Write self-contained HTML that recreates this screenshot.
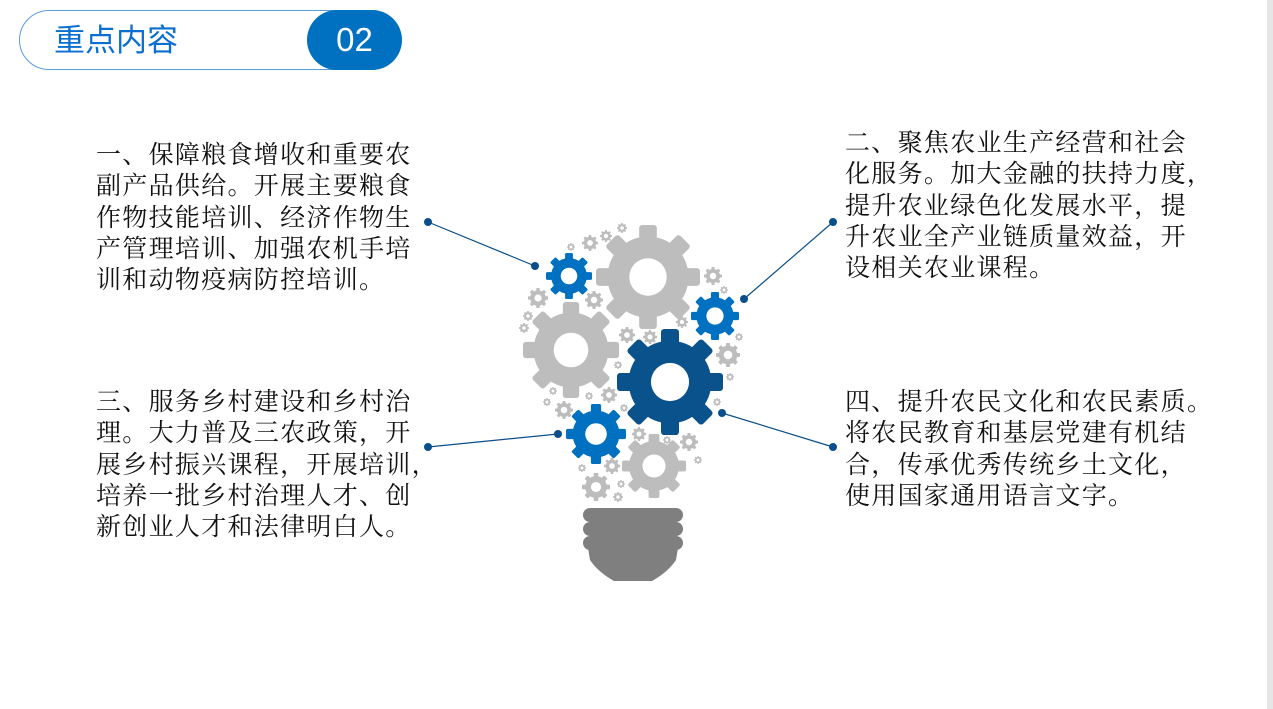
<!DOCTYPE html>
<html><head><meta charset="utf-8"><style>
body{margin:0;width:1273px;height:709px;background:#fff;position:relative;overflow:hidden;font-family:"Liberation Serif","Noto Serif CJK SC","Noto Sans CJK SC",serif;}
.t{position:absolute;font-size:25px;line-height:31.3px;color:#111;letter-spacing:1.3px;white-space:nowrap;}
</style></head><body>
<div style="position:absolute;right:0;top:0;width:6px;height:709px;background:#e6e6e6"></div>
<div style="position:absolute;left:19px;top:10px;width:380px;height:58px;border:1.5px solid #5a9be0;border-radius:30px;"></div>
<div style="position:absolute;left:307px;top:10px;width:95px;height:60px;background:#0070c0;border-radius:30px;color:#fff;font-family:'Liberation Sans',sans-serif;font-size:33px;line-height:60px;text-align:center;">02</div>
<div style="position:absolute;left:54px;top:21px;font-family:'Liberation Sans','Noto Sans CJK SC',sans-serif;font-size:31px;line-height:40px;color:#0a6fd0;">重点内容</div>

<div class="t" style="left:96px;top:140px;">一、保障粮食增收和重要农<br>副产品供给。开展主要粮食<br>作物技能培训、经济作物生<br>产管理培训、加强农机手培<br>训和动物疫病防控培训。</div>
<div class="t" style="left:845px;top:128px;">二、聚焦农业生产经营和社会<br>化服务。加大金融的扶持力度，<br>提升农业绿色化发展水平，提<br>升农业全产业链质量效益，开<br>设相关农业课程。</div>
<div class="t" style="left:96px;top:387px;">三、服务乡村建设和乡村治<br>理。大力普及三农政策，开<br>展乡村振兴课程，开展培训，<br>培养一批乡村治理人才、创<br>新创业人才和法律明白人。</div>
<div class="t" style="left:845px;top:387px;">四、提升农民文化和农民素质。<br>将农民教育和基层党建有机结<br>合，传承优秀传统乡土文化，<br>使用国家通用语言文字。</div>

<svg style="position:absolute;left:0;top:0" width="1273" height="709">
<defs>
<g id="g">
<circle r="0.78"/>
<g id="tt"><rect x="-0.17" y="-1" width="0.34" height="0.5" rx="0.06"/></g>
<use href="#tt" transform="rotate(45)"/><use href="#tt" transform="rotate(90)"/><use href="#tt" transform="rotate(135)"/>
<use href="#tt" transform="rotate(180)"/><use href="#tt" transform="rotate(225)"/><use href="#tt" transform="rotate(270)"/><use href="#tt" transform="rotate(315)"/>
<circle r="0.36" fill="#fff"/>
</g>
</defs>
<g stroke="#0a4f8c" stroke-width="1.2">
<line x1="428" y1="222" x2="535" y2="266"/><line x1="833" y1="222" x2="744" y2="299"/>
<line x1="428" y1="447" x2="558" y2="434"/><line x1="722" y1="413" x2="833" y2="447"/>
</g>
<g fill="#0a4f8c"><circle cx="428" cy="222" r="4"/><circle cx="535" cy="266" r="4"/><circle cx="833" cy="222" r="4"/><circle cx="744" cy="299" r="4"/><circle cx="428" cy="447" r="4"/><circle cx="558" cy="434" r="4"/><circle cx="722" cy="413" r="4"/><circle cx="833" cy="447" r="4"/></g>
<g fill="#bdbdbd">
<use href="#g" transform="translate(648,277) scale(52)"/>
<use href="#g" transform="translate(571,350) scale(48)"/>
<use href="#g" transform="translate(654,466) scale(32)"/>
<use href="#g" transform="translate(538,298) scale(10)"/>
<use href="#g" transform="translate(594,300) scale(9)"/>
<use href="#g" transform="translate(590,243) scale(8)"/>
<use href="#g" transform="translate(606,236) scale(6)"/>
<use href="#g" transform="translate(622,228) scale(5)"/>
<use href="#g" transform="translate(571,247) scale(4)"/>
<use href="#g" transform="translate(713,276) scale(9)"/>
<use href="#g" transform="translate(728,355) scale(12)"/>
<use href="#g" transform="translate(724,290) scale(4)"/>
<use href="#g" transform="translate(528,316) scale(5)"/>
<use href="#g" transform="translate(524,328) scale(5)"/>
<use href="#g" transform="translate(627,335) scale(8)"/>
<use href="#g" transform="translate(650,337) scale(7)"/>
<use href="#g" transform="translate(682,322) scale(6)"/>
<use href="#g" transform="translate(739,337) scale(4)"/>
<use href="#g" transform="translate(730,377) scale(4)"/>
<use href="#g" transform="translate(618,365) scale(4)"/>
<use href="#g" transform="translate(553,391) scale(4)"/>
<use href="#g" transform="translate(547,402) scale(4)"/>
<use href="#g" transform="translate(564,410) scale(9)"/>
<use href="#g" transform="translate(589,396) scale(4)"/>
<use href="#g" transform="translate(609,395) scale(8)"/>
<use href="#g" transform="translate(624,408) scale(4)"/>
<use href="#g" transform="translate(639,434) scale(7)"/>
<use href="#g" transform="translate(717,402) scale(4)"/>
<use href="#g" transform="translate(699,409) scale(4)"/>
<use href="#g" transform="translate(689,442) scale(9)"/>
<use href="#g" transform="translate(698,460) scale(4)"/>
<use href="#g" transform="translate(667,440) scale(4)"/>
<use href="#g" transform="translate(582,468) scale(4)"/>
<use href="#g" transform="translate(612,466) scale(8)"/>
<use href="#g" transform="translate(596,487) scale(14)"/>
<use href="#g" transform="translate(621,484) scale(4)"/>
<use href="#g" transform="translate(618,497) scale(5)"/>
</g>
<g fill="#0070c0">
<use href="#g" transform="translate(569,276) scale(23)"/>
<use href="#g" transform="translate(715,316) scale(24)"/>
<use href="#g" transform="translate(596,434) scale(30)"/>
</g>
<use href="#g" fill="#0a528c" transform="translate(670,382) scale(53)"/>
<g fill="#7f7f7f">
<rect x="583" y="508" width="100" height="14" rx="7"/>
<rect x="583" y="522" width="100" height="14" rx="7"/>
<rect x="583" y="536" width="100" height="14" rx="7"/>
<path d="M588,548 L678,548 L676,560 Q668,572 652,581 L614,581 Q598,572 590,560 Z"/>
</g>
</svg>
</body></html>
